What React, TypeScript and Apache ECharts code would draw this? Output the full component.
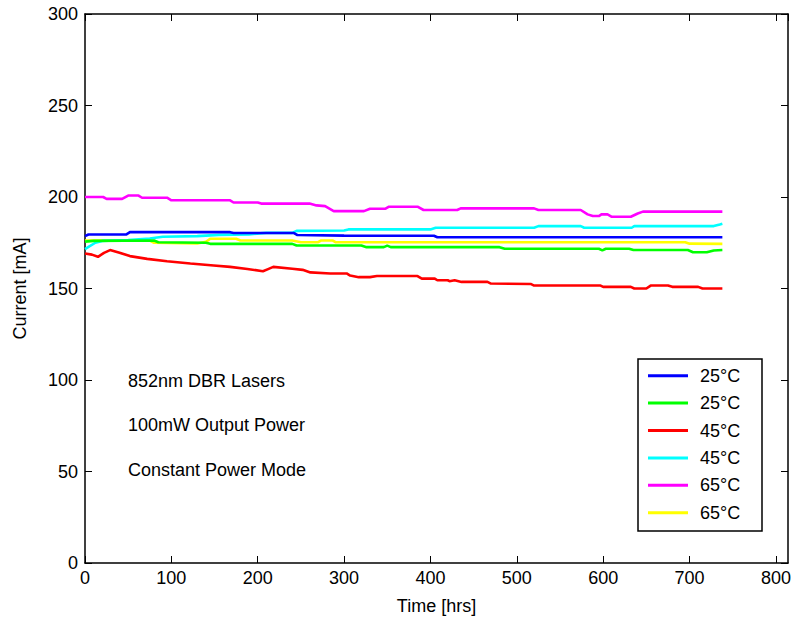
import React, { useEffect, useRef } from "react";
import * as echarts from "echarts";

// ---- data (hours, current mA) ----
const legendLabels = ["25°C", "25°C", "45°C", "45°C", "65°C", "65°C"];
const seriesColors = ["#0000ff", "#00ff00", "#ff0000", "#00ffff", "#ff00ff", "#ffff00"];

const blue25: number[][] = [
  [0, 178.6], [4, 179.5], [48, 179.6], [52, 180.8], [168, 180.8], [172, 180.3],
  [242, 180.3], [246, 179.2], [300, 178.9], [404, 178.8], [408, 178.0], [738, 178.0],
];

const green25: number[][] = [
  [0, 175.6], [10, 176.0], [80, 176.2], [85, 175.3], [140, 175.0], [145, 174.4],
  [240, 174.4], [245, 173.5], [320, 173.5], [326, 172.6], [346, 172.6], [350, 173.4],
  [354, 172.6], [480, 172.6], [486, 171.7], [595, 171.7], [599, 170.8], [603, 171.7],
  [630, 171.7], [635, 171.0], [698, 171.0], [704, 169.8], [720, 169.8], [728, 170.8],
  [738, 171.0],
];

const red45: number[][] = [
  [0, 169.1], [8, 168.5], [15, 167.3], [22, 169.5], [29, 171.0], [40, 169.5],
  [52, 167.7], [72, 166.2], [95, 164.9], [122, 163.7], [149, 162.6], [168, 161.8],
  [188, 160.7], [206, 159.4], [212, 160.6], [218, 161.8], [240, 160.8], [252, 160.2],
  [261, 158.8], [284, 158.2], [303, 158.2], [307, 157.1], [317, 156.2], [330, 156.2],
  [338, 156.8], [385, 156.8], [390, 155.4], [405, 155.4], [408, 154.5], [420, 154.5],
  [422, 154.0], [428, 154.5], [436, 153.6], [466, 153.6], [470, 152.7], [516, 152.5],
  [520, 151.6], [597, 151.6], [600, 150.9], [632, 150.9], [636, 150.0], [650, 150.0],
  [655, 151.6], [675, 151.6], [680, 150.9], [710, 150.9], [715, 150.0], [738, 150.0],
];

const cyan45: number[][] = [
  [0, 171.5], [5, 173.0], [12, 175.0], [20, 176.0], [50, 176.5], [75, 177.3],
  [90, 178.3], [130, 178.6], [155, 179.3], [190, 179.6], [210, 180.4], [240, 180.4],
  [245, 181.5], [300, 181.7], [305, 182.3], [400, 182.3], [406, 183.2], [520, 183.2],
  [525, 184.1], [574, 184.1], [578, 183.2], [633, 183.2], [636, 184.1], [728, 184.1],
  [735, 185.0], [738, 185.4],
];

const magenta65: number[][] = [
  [0, 200.0], [21, 200.0], [25, 199.0], [43, 199.0], [50, 200.8], [62, 200.8],
  [66, 199.6], [95, 199.6], [100, 198.2], [168, 198.2], [172, 197.0], [200, 197.0],
  [204, 196.4], [260, 196.4], [268, 195.4], [278, 195.0], [288, 192.3], [323, 192.3],
  [330, 193.6], [348, 193.6], [352, 194.7], [385, 194.7], [392, 192.9], [431, 192.9],
  [435, 193.8], [520, 193.8], [525, 192.9], [574, 192.9], [582, 190.5], [588, 189.6],
  [595, 189.6], [598, 190.5], [605, 190.5], [610, 189.2], [632, 189.2], [640, 191.0],
  [646, 192.0], [738, 192.0],
];

const yellow65: number[][] = [
  [0, 176.2], [75, 176.2], [80, 175.0], [130, 174.6], [140, 175.5], [145, 177.2],
  [175, 177.2], [180, 176.2], [240, 176.2], [250, 175.3], [270, 175.3], [273, 176.2],
  [287, 176.2], [290, 175.3], [695, 175.3], [700, 174.5], [738, 174.4],
];

const seriesData = [blue25, green25, red45, cyan45, magenta65, yellow65];

const xTicks = [0, 100, 200, 300, 400, 500, 600, 700, 800];
const yTicks = [0, 50, 100, 150, 200, 250, 300];
const annotations = ["852nm DBR Lasers", "100mW Output Power", "Constant Power Mode"];

const FONT = "'Liberation Sans', Arial, sans-serif";

const axisLineStyle = () => ({ show: true, onZero: false, lineStyle: { color: "#000", width: 1.5 } });
const insideTick = () => ({ show: true, inside: true, length: 7, lineStyle: { color: "#000", width: 1 } });

export default function App() {
  const ref = useRef<HTMLDivElement>(null);

  useEffect(() => {
    if (!ref.current) return;
    const chart = echarts.init(ref.current, null, { renderer: "svg" });

    const ids = legendLabels.map((l, i) => `${l}#${i}`);

    const option: any = {
      animation: false,
      backgroundColor: "#fff",
      grid: { left: 85, top: 14, right: 7, bottom: 59, containLabel: false },
      xAxis: [
        {
          type: "value",
          min: xTicks[0],
          max: 814,
          interval: 100,
          position: "bottom",
          name: "Time [hrs]",
          nameLocation: "middle",
          nameGap: 34,
          nameTextStyle: { color: "#000", fontSize: 18, fontFamily: FONT },
          axisLine: axisLineStyle(),
          axisTick: insideTick(),
          splitLine: { show: false },
          axisLabel: {
            color: "#000",
            fontSize: 18,
            fontFamily: FONT,
            margin: 6,
            showMaxLabel: false,
            formatter: (v: number) => (xTicks.includes(v) ? String(v) : ""),
          },
        },
        {
          type: "value",
          min: xTicks[0],
          max: 814,
          interval: 100,
          position: "top",
          axisLine: axisLineStyle(),
          axisTick: insideTick(),
          splitLine: { show: false },
          axisLabel: { show: false },
        },
      ],
      yAxis: [
        {
          type: "value",
          min: yTicks[0],
          max: yTicks[yTicks.length - 1],
          interval: 50,
          position: "left",
          name: "Current [mA]",
          nameLocation: "middle",
          nameGap: 56,
          nameTextStyle: { color: "#000", fontSize: 18, fontFamily: FONT },
          axisLine: axisLineStyle(),
          axisTick: insideTick(),
          splitLine: { show: false },
          axisLabel: { color: "#000", fontSize: 18, fontFamily: FONT, margin: 7 },
        },
        {
          type: "value",
          min: yTicks[0],
          max: yTicks[yTicks.length - 1],
          interval: 50,
          position: "right",
          axisLine: axisLineStyle(),
          axisTick: insideTick(),
          splitLine: { show: false },
          axisLabel: { show: false },
        },
      ],
      legend: {
        orient: "vertical",
        left: 648,
        top: 362,
        padding: 0,
        itemGap: 0,
        itemWidth: 40,
        itemHeight: 3,
        icon: "rect",
        data: ids,
        formatter: (name: string) => name.split("#")[0],
        textStyle: {
          color: "#000",
          fontSize: 18,
          fontFamily: FONT,
          lineHeight: 27.4,
          padding: [0, 0, 0, 7],
        },
      },
      graphic: [
        {
          type: "rect",
          shape: { x: 638, y: 359, width: 124, height: 172 },
          style: { fill: "none", stroke: "#000", lineWidth: 1.5 },
          silent: true,
          z: 100,
        },
        ...annotations.map((t, i) => ({
          type: "text",
          x: 128,
          y: 381 + i * 44.3,
          style: {
            text: t,
            fill: "#000",
            fontSize: 18,
            fontFamily: FONT,
            verticalAlign: "middle",
          },
          z: 100,
        })),
      ],
      series: seriesData.map((d, i) => ({
        type: "line",
        name: ids[i],
        data: d,
        xAxisIndex: 0,
        yAxisIndex: 0,
        showSymbol: false,
        symbol: "none",
        color: seriesColors[i],
        lineStyle: { color: seriesColors[i], width: 2.6 },
        z: 2 + (seriesData.length - i),
      })),
    };

    chart.setOption(option);
    return () => chart.dispose();
  }, []);

  return (
    <div
      ref={ref}
      style={{ position: "absolute", left: 0, top: 0, width: 795, height: 622 }}
    />
  );
}
